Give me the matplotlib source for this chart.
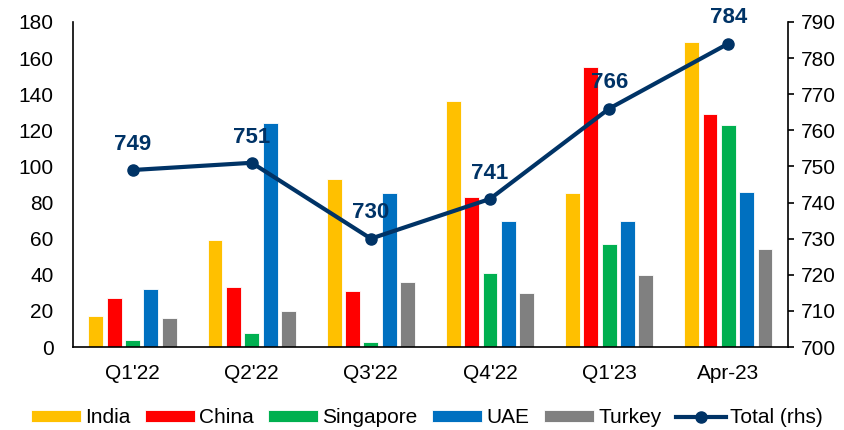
import numpy as np
import matplotlib
matplotlib.use("Agg")
import matplotlib.pyplot as plt

plt.rcParams['font.family'] = ['Liberation Sans', 'DejaVu Sans']

periods = ["Q1'22", "Q2'22", "Q3'22", "Q4'22", "Q1'23", "Apr-23"]
india = [17, 59, 93, 136, 85, 169]
china = [27, 33, 31, 83, 155, 129]
singapore = [4, 8, 3, 41, 57, 123]
uae = [32, 124, 85, 70, 70, 86]
turkey = [16, 20, 36, 30, 40, 54]
total = [749, 751, 730, 741, 766, 784]

series = [
    ("India", india, "#FFC000"),
    ("China", china, "#FF0000"),
    ("Singapore", singapore, "#00B050"),
    ("UAE", uae, "#0070C0"),
    ("Turkey", turkey, "#808080"),
]
navy = "#003366"

fig = plt.figure(figsize=(8.45, 4.30), dpi=100)
ax = fig.add_axes([0.0864, 0.193, 0.846, 0.756])
ax2 = ax.twinx()

x = np.arange(len(periods))
pitch = 0.154
width = 0.125
for i, (name, vals, col) in enumerate(series):
    ax.bar(x + (i - 2) * pitch, vals, width, color=col, edgecolor="white",
           linewidth=0.6, label=name, zorder=2)

ax2.plot(x, total, color=navy, lw=3, marker="o", ms=8, label="Total (rhs)", zorder=3)
for xi, v in zip(x, total):
    ax2.annotate(str(v), (xi, v), xytext=(0, 11), textcoords="offset points",
                 ha="center", va="bottom", fontsize=16, fontweight="bold", color=navy)

ax.set_xlim(-0.5, len(periods) - 0.5)
ax.set_ylim(0, 180)
ax.set_yticks(range(0, 181, 20))
ax2.set_ylim(700, 790)
ax2.set_yticks(range(700, 791, 10))
ax.set_xticks(x)
ax.set_xticklabels(periods)

for a in (ax, ax2):
    a.spines['top'].set_visible(False)
    a.tick_params(labelsize=15, colors="black")
ax.spines['right'].set_visible(False)
ax2.spines['left'].set_visible(False)
ax.spines['left'].set_linewidth(1.2)
ax.spines['bottom'].set_linewidth(1.2)
ax2.spines['right'].set_linewidth(1.2)
ax2.spines['bottom'].set_visible(False)
ax.tick_params(axis='y', length=0, pad=14)
ax.tick_params(axis='x', length=0, pad=12)
ax2.tick_params(axis='y', length=4, width=1.2, direction='out', pad=5)

h1, l1 = ax.get_legend_handles_labels()
h2, l2 = ax2.get_legend_handles_labels()
fig.legend(h1 + h2, l1 + l2, loc="center", bbox_to_anchor=(0.505, 0.028), ncol=6,
           frameon=False, fontsize=15, handlelength=2.4, handleheight=0.5,
           handletextpad=0.2, columnspacing=0.7)

fig.savefig("out.png", dpi=100)
